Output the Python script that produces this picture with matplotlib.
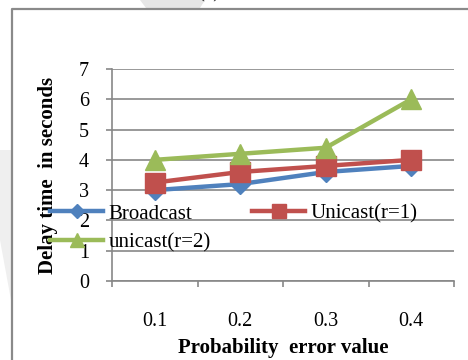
import matplotlib
matplotlib.use("Agg")
import matplotlib.pyplot as plt
from matplotlib.lines import Line2D
from matplotlib.patches import Polygon

# Data
categories = ["0.1", "0.2", "0.3", "0.4"]
broadcast = [3.0, 3.2, 3.6, 3.8]
unicast_r1 = [3.25, 3.6, 3.8, 4.0]
unicast_r2 = [4.0, 4.2, 4.4, 6.0]
y_ticks = [0, 1, 2, 3, 4, 5, 6, 7]

BLUE = "#4F81BD"
RED = "#C0504D"
GREEN = "#9BBB59"
GRID = "#878787"

plt.rcParams["font.family"] = ["Liberation Serif", "DejaVu Serif"]

W, H = 468, 360
fig = plt.figure(figsize=(W / 100, H / 100), dpi=100)
fig.patch.set_facecolor("white")

def fx(px):
    return px / W

def fy(py):
    return (H - py) / H

# Faint background shapes
fig.patches.append(Polygon([(fx(140), fy(0)), (fx(205), fy(0)), (fx(200), fy(8)), (fx(146), fy(8))],
                           closed=True, transform=fig.transFigure, facecolor="#e6e6e6",
                           edgecolor="none", zorder=0))
fig.patches.append(Polygon([(fx(0), fy(150)), (fx(11), fy(150)), (fx(11), fy(300)), (fx(0), fy(240))],
                           closed=True, transform=fig.transFigure, facecolor="#efefef",
                           edgecolor="none", zorder=0))
fig.text(fx(209), fy(-3), "(a)", fontsize=15, ha="center", va="baseline", color="#222222")

# Outer frame (left and top edges)
fig.lines.append(Line2D([fx(12), fx(12), fx(470)], [fy(365), fy(9), fy(9)],
                        transform=fig.transFigure, color="#8a8a8a", lw=1.6, zorder=1))

ax = fig.add_axes([fx(112), fy(281), fx(454) - fx(112), fy(69) - fy(281)])
ax.set_facecolor("none")

x = list(range(len(categories)))
l1, = ax.plot(x, broadcast, color=BLUE, lw=3.2, marker="D", markersize=10,
              markeredgecolor=BLUE, label="Broadcast", zorder=3, solid_joinstyle="round")
l2, = ax.plot(x, unicast_r1, color=RED, lw=3.2, marker="s", markersize=14,
              markeredgecolor=RED, label="Unicast(r=1)", zorder=4, solid_joinstyle="round")
l3, = ax.plot(x, unicast_r2, color=GREEN, lw=3.2, marker="^", markersize=14,
              markeredgecolor=GREEN, label="unicast(r=2)", zorder=5, solid_joinstyle="round")

ax.set_xlim(-0.5, len(categories) - 0.5)
ax.set_ylim(0, 7)
ax.set_yticks(y_ticks)
ax.set_yticklabels([str(v) for v in y_ticks])

# Category boundaries carry tick marks; labels sit at category centres
ax.set_xticks([i - 0.5 for i in range(len(categories) + 1)])
ax.set_xticklabels([])
ax.set_xticks(x, minor=True)
ax.set_xticklabels(categories, minor=True)
ax.tick_params(axis="x", which="major", direction="out", length=4.5, width=1.2, color=GRID)
ax.tick_params(axis="x", which="minor", length=0, pad=22, labelsize=14.5)
ax.tick_params(axis="y", direction="out", length=4.5, width=1.2, color=GRID, pad=12, labelsize=14.5)

ax.grid(axis="y", color=GRID, lw=1.2, zorder=1)
ax.set_axisbelow(True)
for side in ("top", "right"):
    ax.spines[side].set_visible(False)
for side in ("left", "bottom"):
    ax.spines[side].set_color(GRID)
    ax.spines[side].set_linewidth(1.2)

ax.set_xlabel("Probability  error value", fontsize=15, fontweight="bold", labelpad=5)
ax.set_ylabel("Delay time  in seconds", fontsize=15, fontweight="bold", labelpad=15)

leg = fig.legend([l1, l3, l2], ["Broadcast", "unicast(r=2)", "Unicast(r=1)"],
                 ncol=2, loc="upper left", bbox_to_anchor=(fx(50), fy(204)),
                 frameon=False, fontsize=15, borderpad=0, borderaxespad=0,
                 handlelength=2.55, handletextpad=0.25, columnspacing=2.0,
                 labelspacing=0.45, markerscale=0.75)
leg.set_zorder(6)

fig.savefig("out.png", dpi=100)
